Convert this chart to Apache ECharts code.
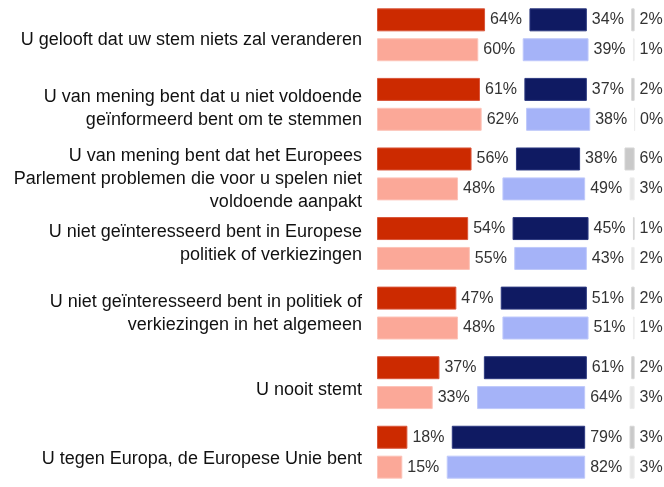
<!DOCTYPE html>
<html>
<head>
<meta charset="utf-8">
<script src="https://cdn.jsdelivr.net/npm/echarts@6/dist/echarts.min.js"></script>
<style>html,body{margin:0;padding:0;background:#fff;}#c{width:664px;height:487px;}</style>
</head>
<body>
<div id="c"></div>
<script>
// Categories (top to bottom)
const categories = [
  'U gelooft dat uw stem niets zal veranderen',
  'U van mening bent dat u niet voldoende\ngeïnformeerd bent om te stemmen',
  'U van mening bent dat het Europees\nParlement problemen die voor u spelen niet\nvoldoende aanpakt',
  'U niet geïnteresseerd bent in Europese\npolitiek of verkiezingen',
  'U niet geïnteresseerd bent in politiek of\nverkiezingen in het algemeen',
  'U nooit stemt',
  'U tegen Europa, de Europese Unie bent'
];
// Upper (dark) row per category
const redDark   = [64, 61, 56, 54, 47, 37, 18];
const blueDark  = [34, 37, 38, 45, 51, 61, 79];
const greyDark  = [2, 2, 6, 1, 2, 2, 3];
// Lower (light) row per category
const redLight  = [60, 62, 48, 55, 48, 33, 15];
const blueLight = [39, 38, 49, 43, 51, 64, 82];
const greyLight = [1, 0, 3, 2, 1, 3, 3];

// layout only: spacing between segments (axis units) and label vertical nudges (px)
const GAP = 26.3;
const gapData = categories.map(() => GAP);
const labelShift = [10, 8, 10, 0, 0, 14, 14];

const labelStyle = {
  show: true, position: 'right', distance: 5,
  formatter: '{c}%',
  fontFamily: '"Liberation Sans", Arial, sans-serif',
  fontSize: 16, color: '#333'
};

function seg(name, stack, data, color, border, dist) {
  return {
    name: name, type: 'bar', stack: stack, data: data,
    barWidth: 23, barGap: '30%',
    itemStyle: { color: color, borderColor: border, borderWidth: 1 },
    label: Object.assign({}, labelStyle, { distance: dist }),
    silent: true
  };
}
function gap(stack) {
  return {
    type: 'bar', stack: stack, data: gapData, barWidth: 23, barGap: '30%',
    itemStyle: { color: 'transparent' }, label: { show: false }, silent: true
  };
}

const rich = {};
labelShift.forEach((h, i) => {
  rich['s' + i] = { height: h, lineHeight: h, fontSize: 1 };
});

const chart = echarts.init(document.getElementById('c'));
chart.setOption({
  animation: false,
  grid: { left: 377, right: 0, top: -0.5, height: 491.4 },
  xAxis: { type: 'value', min: 0, max: 170, show: false },
  yAxis: {
    type: 'category', data: categories, inverse: true,
    axisLine: { show: false }, axisTick: { show: false }, splitLine: { show: false },
    axisLabel: {
      margin: 15, fontSize: 18, lineHeight: 23, color: '#111', align: 'right',
      fontFamily: '"Liberation Sans", Arial, sans-serif',
      formatter: function (v, i) {
        return labelShift[i] ? '{s' + i + '| }\n' + v : v;
      },
      rich: rich
    }
  },
  series: [
    seg('red', 'dark', redDark, '#cc2a00', '#d9553a', 5),
    gap('dark'),
    seg('blue', 'dark', blueDark, '#0f1a62', '#2e3a80', 5),
    gap('dark'),
    seg('grey', 'dark', greyDark, '#c9c9c9', '#d6d6d6', 5),
    seg('red2', 'light', redLight, '#fba898', '#fdc3b8', 5),
    gap('light'),
    seg('blue2', 'light', blueLight, '#a5b3f8', '#bfc9fb', 5),
    gap('light'),
    seg('grey2', 'light', greyLight, '#e6e6e6', '#ededed', 5)
  ]
});
</script>
</body>
</html>
